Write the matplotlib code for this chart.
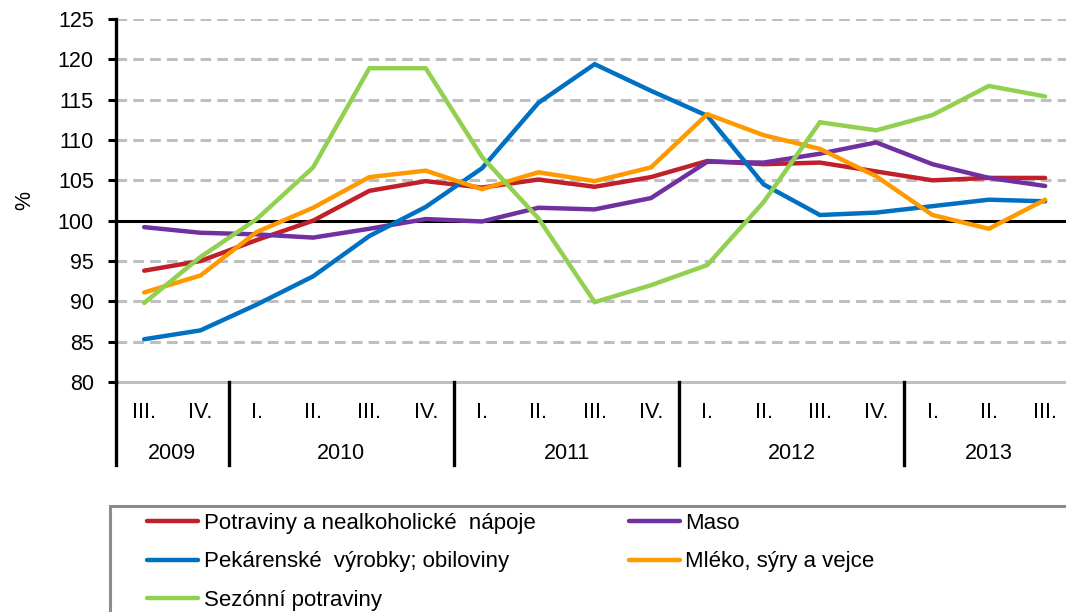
import matplotlib
matplotlib.use("Agg")
import matplotlib.pyplot as plt
from matplotlib.patches import Rectangle

plt.rcParams["font.family"] = ["Liberation Sans", "DejaVu Sans"]

# čtvrtletí 2009 III .. 2013 III
quarters = ["III.", "IV.",
            "I.", "II.", "III.", "IV.",
            "I.", "II.", "III.", "IV.",
            "I.", "II.", "III.", "IV.",
            "I.", "II.", "III."]
years = ["2009", "2010", "2011", "2012", "2013"]
year_counts = [2, 4, 4, 4, 3]

potraviny = [93.8, 95.0, 97.6, 100.0, 103.7, 104.9, 104.1, 105.1, 104.2, 105.4,
             107.4, 107.0, 107.2, 106.1, 105.0, 105.3, 105.3]
maso = [99.2, 98.5, 98.3, 97.9, 99.0, 100.2, 99.9, 101.6, 101.4, 102.8,
        107.3, 107.2, 108.3, 109.7, 107.0, 105.3, 104.3]
pekarenske = [85.3, 86.4, 89.6, 93.1, 98.1, 101.7, 106.5, 114.6, 119.4, 116.1,
              113.0, 104.5, 100.7, 101.0, 101.8, 102.6, 102.4]
mleko = [91.1, 93.2, 98.6, 101.6, 105.4, 106.2, 103.9, 106.0, 104.9, 106.6,
         113.2, 110.6, 108.9, 105.5, 100.7, 99.0, 102.6]
sezonni = [89.8, 95.5, 100.2, 106.6, 118.9, 118.9, 107.9, 100.3, 89.9, 92.0,
           94.5, 102.3, 112.2, 111.2, 113.1, 116.7, 115.4]

series = [
    ("Potraviny a nealkoholické  nápoje", potraviny, "#C0202A"),
    ("Pekárenské  výrobky; obiloviny", pekarenske, "#0070C0"),
    ("Sezónní potraviny", sezonni, "#92D050"),
    ("Maso", maso, "#7030A0"),
    ("Mléko, sýry a vejce", mleko, "#FF9900"),
]
draw_order = [0, 3, 1, 4, 2]
FS = 15.5

W, H = 1066, 612
fig = plt.figure(figsize=(W / 100, H / 100), dpi=100)
ax = fig.add_axes([116 / W, 1 - 382 / H, (W - 116) / W, (382 - 19) / H])

xs = list(range(len(quarters)))
lines = {}
for i in draw_order:
    name, vals, col = series[i]
    lines[i], = ax.plot(xs, vals, color=col, lw=3.2, label=name, zorder=3,
                        solid_capstyle="round", solid_joinstyle="miter")

ax.set_ylim(80, 125)
ax.set_xlim(-0.5, 16.37)
ax.set_yticks(range(80, 126, 5))
for v in range(85, 126, 5):
    if v != 100:
        ax.axhline(v, color="#BFBFBF", lw=2.2, ls=(0, (3.5, 2)), zorder=1)
ax.axhline(100, color="black", lw=2.2, zorder=2)
ax.axhline(80, color="#BFBFBF", lw=2.2, zorder=1, clip_on=False)

for s in ["top", "right", "bottom"]:
    ax.spines[s].set_visible(False)
ax.spines["left"].set_linewidth(2.4)
ax.tick_params(axis="y", length=6, width=2.2, labelsize=FS, pad=10)
ax.set_xticks([])
ax.set_ylabel("%", fontsize=FS, labelpad=16)

# dvouúrovňová kategorie
trans = ax.get_xaxis_transform()
for x, q in zip(xs, quarters):
    ax.text(x, -0.085, q, transform=trans, ha="center", va="center", fontsize=FS)
start = 0
seps = [-0.5]
for y, n in zip(years, year_counts):
    ax.text(start + (n - 1) / 2, -0.196, y, transform=trans, ha="center",
            va="center", fontsize=FS)
    start += n
    seps.append(start - 0.5)
for sx in seps[:-1]:
    ax.plot([sx, sx], [0, -0.23], transform=trans, color="black", lw=2.4,
            clip_on=False)

# legenda
fig.patches.append(Rectangle((110 / W, -0.05), 1.0, 1 - 506 / H + 0.05,
                             transform=fig.transFigure, fill=False,
                             edgecolor="#8C8C8C", lw=2.2))
handles = [lines[i] for i in range(5)]
fig.legend(handles=handles, labels=[s[0] for s in series], ncol=2,
           loc="upper left", bbox_to_anchor=(147 / W, 1 - 513 / H),
           frameon=False, fontsize=16, handlelength=2.3, handletextpad=0.25,
           labelspacing=0.78, columnspacing=4.2, borderaxespad=0, borderpad=0)

fig.savefig("out.png", dpi=100)
